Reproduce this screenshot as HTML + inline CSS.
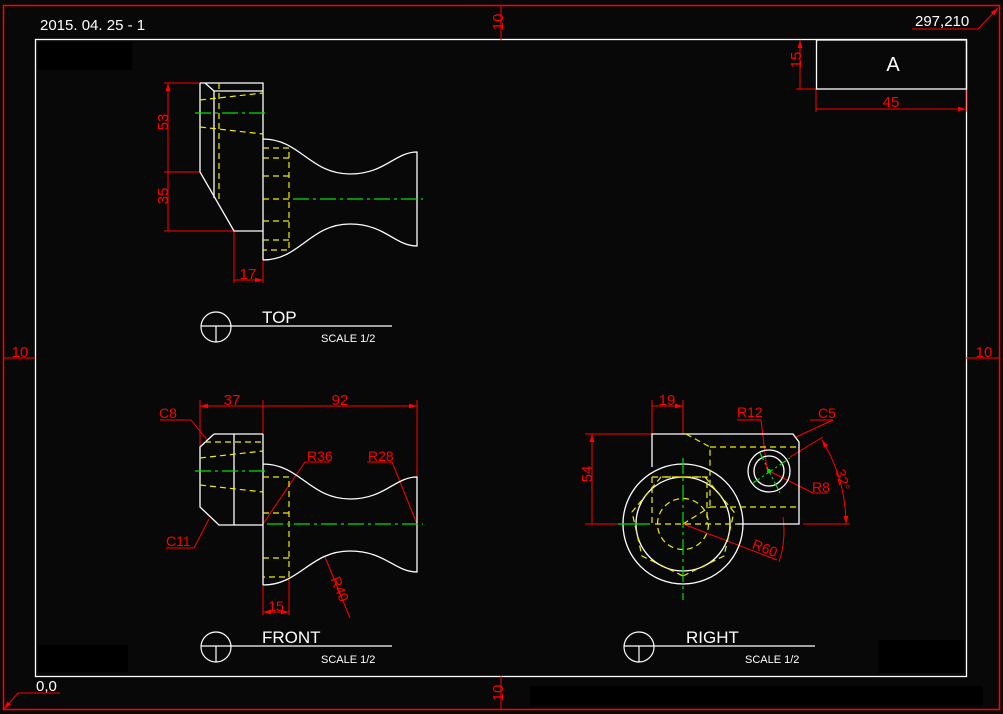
<!DOCTYPE html>
<html><head><meta charset="utf-8"><style>
html,body{margin:0;padding:0;background:#080808;}
svg{display:block;}
text{font-family:"Liberation Sans","DejaVu Sans",sans-serif;}
</style></head><body>
<svg width="1003" height="714" viewBox="0 0 1003 714" xmlns="http://www.w3.org/2000/svg">
<defs>
<marker id="a" viewBox="0 0 10 6" refX="10" refY="3" markerWidth="8" markerHeight="5" orient="auto-start-reverse" markerUnits="userSpaceOnUse"><path d="M0 0L10 3L0 6Z" fill="#f00"/></marker>
</defs>
<rect width="1003" height="714" fill="#080808"/>
<rect x="38" y="42" width="94" height="28" fill="#000"/>
<rect x="38" y="645" width="90" height="27" fill="#000"/>
<rect x="878" y="640" width="86" height="33" fill="#000"/>
<rect x="530" y="686" width="453" height="20" fill="#000"/>
<rect x="3.5" y="5.5" width="996" height="704" fill="none" stroke="#f00" stroke-width="1.5"/>
<rect x="35.5" y="39.5" width="931" height="637" fill="none" stroke="#fff" stroke-width="1.3"/>
<g fill="#fff" font-size="15">
<text x="40" y="30">2015. 04. 25 - 1</text>
<text x="915" y="26">297,210</text>
<text x="36" y="691">0,0</text>
</g>
<g stroke="#f00" fill="none" stroke-width="1">
<path d="M912 29H978L998 8" marker-end="url(#a)"/>
<path d="M60 693H18L4 709" marker-end="url(#a)"/>
<path d="M501 5V40M501 676V710M3 358H35M966 358H1000"/>
<path d="M796 89H816M816 89V112M966 89V112"/>
<path d="M800 40V89M816 109H966" marker-start="url(#a)" marker-end="url(#a)"/>
<path d="M164 83H200M164 172H200M164 231H234M234 231V283M263 260V283"/>
<path d="M168 83V172M168 172V231M234 280H263" marker-start="url(#a)" marker-end="url(#a)"/>
<path d="M200 400V447M263 400V434M417 400V477"/>
<path d="M200 406H263M263 406H417" marker-start="url(#a)" marker-end="url(#a)"/>
<path d="M160 420H191L207 440M166 548H194L209 519" />
<path d="M263 524L305 462H329M367 462H392L417 524"/>
<path d="M325 557L350 618"/>
<path d="M263 585V615M289 572V615"/>
<path d="M263 612H289" marker-start="url(#a)" marker-end="url(#a)"/>
<path d="M585 434H652M585 524H618M652 400V434M683 400V434"/>
<path d="M592 434V524M652 406H683" marker-start="url(#a)" marker-end="url(#a)"/>
<path d="M737 420H761L767 470M810 420H833L796 437"/>
<path d="M769 471L813 493H828M683 524L777 560"/>
<path d="M790 457L823 437M803 524H850"/>
<path d="M822 440A163 163 0 0 1 846 524" marker-start="url(#a)" marker-end="url(#a)"/>
<path d="M783 517A100 100 0 0 1 779 562"/>
</g>
<g fill="#f00" font-size="15">
<text x="497" y="28" transform="rotate(-90 497 22)" text-anchor="middle">10</text>
<text x="497" y="699" transform="rotate(-90 497 693)" text-anchor="middle">10</text>
<text x="20" y="357" text-anchor="middle">10</text>
<text x="984" y="357" text-anchor="middle">10</text>
<text x="800" y="69" transform="rotate(-90 796 64)" text-anchor="middle">15</text>
<text x="891" y="107" text-anchor="middle">45</text>
<text x="168" y="132" transform="rotate(-90 163 127)" text-anchor="middle">53</text>
<text x="168" y="206" transform="rotate(-90 163 201)" text-anchor="middle">35</text>
<text x="248" y="279" text-anchor="middle">17</text>
<text x="232" y="405" text-anchor="middle">37</text>
<text x="340" y="405" text-anchor="middle">92</text>
<text x="159" y="418" font-size="14">C8</text>
<text x="166" y="546" font-size="14">C11</text>
<text x="307" y="461" font-size="14">R36</text>
<text x="368" y="461" font-size="14">R28</text>
<text x="340" y="594" font-size="14" transform="rotate(68 340 589)" text-anchor="middle">R40</text>
<text x="276" y="611" font-size="14" text-anchor="middle">15</text>
<text x="592" y="484" transform="rotate(-90 587 479)" text-anchor="middle">54</text>
<text x="667" y="405" text-anchor="middle">19</text>
<text x="737" y="417" font-size="14">R12</text>
<text x="818" y="418" font-size="14">C5</text>
<text x="812" y="492" font-size="14">R8</text>
<text x="765" y="553" font-size="14" transform="rotate(22 765 548)" text-anchor="middle">R60</text>
<text x="842" y="484" font-size="14" transform="rotate(75 842 480)" text-anchor="middle">32°</text>
</g>
<rect x="816.5" y="40" width="150" height="49" fill="none" stroke="#fff" stroke-width="1.3"/>
<text x="893" y="71" fill="#fff" font-size="20" text-anchor="middle">A</text>

<g stroke="#fff" fill="none" stroke-width="1.3">
<path d="M200 83H263V260M200 83V172L234 231H263"/>
<path d="M205 83L214 91H263M214 91V198"/>
<path d="M263 139C300 139 310 174 350 174C385 174 395 152 417 152V246C395 246 385 224 350 224C310 224 300 260 263 260"/>
</g>
<g stroke="#ee0" fill="none" stroke-width="1.2" stroke-dasharray="6,4">
<path d="M219 83V200M200 100L263 93M200 127L263 134"/>
<path d="M263 148H289V250H263M263 158H289M263 176H289M263 199H289M263 221H289M263 240H289"/>
</g>
<g stroke="#0d0" fill="none" stroke-width="1.2" stroke-dasharray="16,4,3,4">
<path d="M195 113H268M293 199H423"/>
</g>

<g stroke="#fff" fill="none" stroke-width="1.3">
<path d="M214 434H263M214 434L200 447V507L219 525H263M234 434V525"/>
<path d="M263 434V585M263 464C300 464 310 499 350 499C385 499 395 477 417 477V572C395 572 385 551 350 551C310 551 300 585 263 585"/>
</g>
<g stroke="#ee0" fill="none" stroke-width="1.2" stroke-dasharray="6,4">
<path d="M205 442H263M200 458L263 451M200 485L263 492"/>
<path d="M263 477H289V577H263M263 513H289M263 558H289"/>
</g>
<g stroke="#0d0" fill="none" stroke-width="1.2" stroke-dasharray="16,4,3,4">
<path d="M195 471H268M267 524H423"/>
</g>

<g stroke="#fff" fill="none" stroke-width="1.3">
<path d="M652 467V434H793L799 442V524H737"/>
<circle cx="683" cy="524" r="60"/>
<circle cx="683" cy="524" r="47"/>
<circle cx="769" cy="471" r="21"/>
<circle cx="769" cy="471" r="15"/>
</g>
<g stroke="#ee0" fill="none" stroke-width="1.2" stroke-dasharray="6,4">
<path d="M652 477V524H737M652 477H707V524M686 434L710 447V507M710 447H799M710 507H799M683 524L710 507"/>
<circle cx="683" cy="524" r="25.5"/>
<polygon points="683,576 724,556 734,512 705,477 661,477 632,512 642,556"/>
</g>
<g stroke="#0d0" fill="none" stroke-width="1.2">
<path d="M753 483L790 458M760 453L780 493" stroke-dasharray="8,3,2,3"/>
<path d="M683 458V600" stroke-dasharray="16,4,3,4"/>
<path d="M618 524H650"/>
</g>
<circle cx="769" cy="471" r="2" fill="#0d0"/>

<g stroke="#fff" fill="none" stroke-width="1.2">
<circle cx="216" cy="327" r="15"/><path d="M201 326H392M216 326V342"/>
<circle cx="216" cy="647" r="15"/><path d="M201 646H392M216 646V662"/>
<circle cx="639" cy="647" r="15"/><path d="M624 646H815M639 646V662"/>
</g>
<g fill="#fff">
<text x="262" y="323" font-size="17">TOP</text>
<text x="321" y="342" font-size="11">SCALE 1/2</text>
<text x="262" y="643" font-size="17">FRONT</text>
<text x="321" y="663" font-size="11">SCALE 1/2</text>
<text x="686" y="643" font-size="17">RIGHT</text>
<text x="745" y="663" font-size="11">SCALE 1/2</text>
</g>
</svg>
</body></html>
